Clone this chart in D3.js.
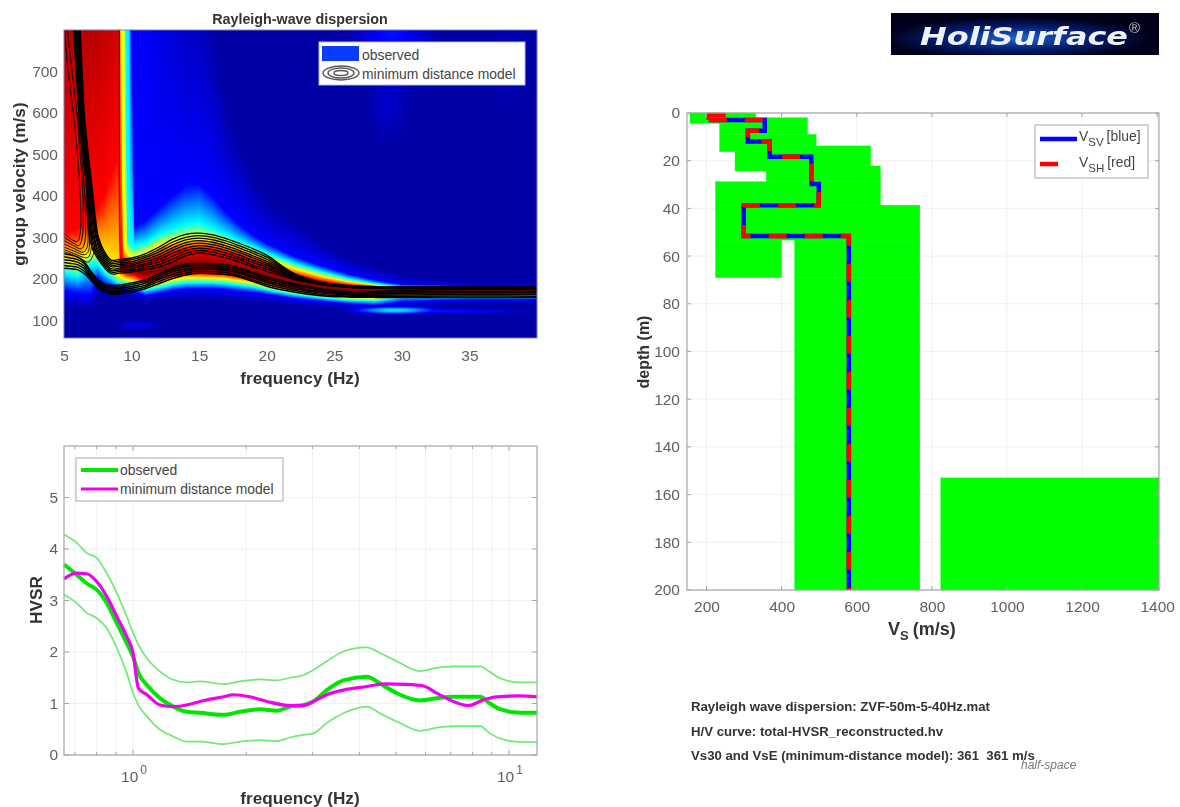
<!DOCTYPE html>
<html>
<head>
<meta charset="utf-8">
<script src="https://cdn.jsdelivr.net/npm/d3@7/dist/d3.min.js"></script>
<style>
  html, body { margin: 0; background: #fff; }
  svg { display: block; filter: blur(0.7px); font-family: "Liberation Sans", Arial, sans-serif; }
  .tick-label { fill: #606060; font-size: 15.5px; }
  .axis-label { fill: #333; font-size: 17.2px; font-weight: bold; }
  .legend-text { fill: #444; font-size: 13.9px; }
  .grid { stroke: #f0f0f0; stroke-width: 1; }
  .frame { fill: none; stroke: #a6a6a6; stroke-width: 1.2; }
</style>
</head>
<body>
<svg id="chart" width="1180" height="807"></svg>
<script>
// ---- dispersion image: velocity of each colour level, column by column ----
const obsFreq = [5, 6, 7, 7.5, 8, 9, 9.14, 9.36, 9.5, 9.66, 9.88, 10.2, 11, 12, 13, 14, 15, 16, 17, 18, 19, 20, 22, 24, 26, 28, 30, 35, 40];
const obsLevels = [0.03, 0.125, 0.375, 0.625, 0.875, 1, 0.875, 0.625, 0.375, 0.125, 0.03];
const lowDark = [130, 125, 130, 150, 150, 155, 155, 158, 158, 155, 152, 150, 145, 150, 150, 150, 150, 150, 148, 146, 144, 140, 136, 132, 130, 128, 130, 140, 140];
const lowBlue = [170, 165, 160, 200, 185, 175, 175, 178, 175, 172, 170, 168, 160, 165, 172, 175, 176, 176, 174, 170, 167, 163, 153, 146, 140, 136, 145, 150, 150];
const lowCyan = [215, 205, 235, 235, 215, 190, 190, 190, 188, 186, 184, 182, 172, 178, 185, 190, 190, 190, 188, 184, 180, 173, 162, 154, 148, 146, 156, 155, 155];
const lowYellow = [245, 235, 265, 262, 245, 205, 205, 203, 200, 198, 196, 194, 182, 190, 198, 203, 203, 202, 200, 195, 190, 182, 170, 160, 155, 153, 160, 160, 160];
const lowRed = [310, 320, 350, 370, 400, 500, 225, 218, 214, 212, 210, 208, 195, 200, 208, 212, 214, 212, 210, 205, 200, 192, 178, 168, 162, 160, 164, 165, 165];
const peakRed = [1200, 1200, 1200, 1200, 1300, 1400, 240, 230, 226, 224, 222, 220, 215, 220, 228, 232, 232, 230, 226, 220, 212, 204, 190, 180, 174, 172, 172, 170, 170];
const highRed = [9000, 9000, 9000, 9000, 9000, 9000, 260, 240, 240, 238, 235, 232, 237, 250, 262, 268, 270, 268, 262, 255, 245, 232, 210, 195, 185, 180, 176, 172, 172];
const highYellow = [9001, 9001, 9001, 9001, 9001, 9001, 1200, 290, 270, 262, 255, 250, 262, 280, 290, 295, 297, 295, 287, 275, 262, 250, 225, 207, 193, 185, 178, 175, 175];
const highCyan = [9002, 9002, 9002, 9002, 9002, 9002, 9000, 9000, 1200, 300, 285, 280, 285, 305, 318, 330, 335, 320, 305, 290, 277, 262, 237, 217, 200, 188, 180, 178, 178];
const highBlue = [9003, 9003, 9003, 9003, 9003, 9003, 9001, 9001, 9000, 9000, 1100, 325, 340, 370, 400, 425, 430, 400, 360, 330, 305, 285, 255, 232, 212, 197, 186, 183, 183];
const highDark = [9004, 9004, 9004, 9004, 9004, 9004, 9002, 9002, 9001, 9001, 9000, 9000, 5000, 1800, 1400, 1000, 1000, 800, 620, 520, 440, 390, 340, 290, 250, 230, 205, 190, 190];
const obsLines = [lowDark, lowBlue, lowCyan, lowYellow, lowRed, peakRed, highRed, highYellow, highCyan, highBlue, highDark];

// separate faint patches of the image: freq, velocity, half widths, level
const obsPatches = [
  [29.5, 124, 2.0, 6, 0.36],
  [33, 122, 4.5, 5, 0.14],
  [26.5, 150, 1.8, 6, 0.3],
  [10.5, 88, 1.1, 7, 0.11],
  [10.3, 53, 1.2, 4, 0.32],
  [29.3, 810, 2.0, 110, 0.14],
  [29, 640, 1.2, 90, 0.07],
  [38, 720, 1.5, 120, 0.05]
];

// ---- model contours of the dispersion panel ----
const ridgeFreq = [8.5, 9, 10, 11, 12, 13, 14, 15, 16, 17, 18, 19, 20, 22, 24, 26, 28, 30, 40];
const upperContours = [
  [245, 246, 250, 260, 276, 295, 307, 310, 306, 297, 285, 272, 257, 213, 192, 184, 181, 180, 180],
  [241, 242, 246, 255, 270, 288, 300, 304, 300, 291, 279, 266, 252, 211, 191, 183, 180, 180, 180],
  [237, 238, 241, 251, 264, 281, 294, 298, 294, 285, 274, 261, 247, 209, 190, 183, 180, 179, 179],
  [233, 234, 237, 246, 258, 274, 287, 292, 288, 279, 268, 255, 242, 207, 190, 182, 179, 179, 179],
  [229, 230, 233, 241, 252, 268, 281, 286, 282, 274, 263, 250, 237, 205, 189, 182, 179, 178, 178],
  [224, 225, 229, 236, 246, 261, 274, 280, 276, 268, 257, 244, 233, 204, 188, 181, 178, 178, 178],
  [220, 221, 224, 232, 240, 254, 268, 274, 270, 262, 251, 239, 228, 202, 188, 181, 178, 177, 177],
  [216, 217, 220, 227, 234, 247, 261, 268, 264, 256, 246, 233, 223, 200, 187, 180, 177, 177, 177],
  [212, 213, 216, 222, 228, 240, 255, 262, 258, 250, 240, 228, 218, 198, 186, 179, 177, 176, 176]
];
const bundleVelocity = [800, 700, 600, 500, 400, 340, 300, 265];
const bundleFreq = [
  [6.2, 6.35, 6.5, 6.8, 7.15, 7.35, 7.55, 8.0],
  [6.14, 6.3, 6.45, 6.75, 7.1, 7.3, 7.5, 7.9],
  [6.08, 6.24, 6.4, 6.7, 7.05, 7.25, 7.42, 7.8],
  [6.02, 6.18, 6.35, 6.65, 7.0, 7.18, 7.35, 7.7],
  [5.96, 6.12, 6.3, 6.6, 6.94, 7.1, 7.25, 7.6],
  [5.9, 6.06, 6.25, 6.55, 6.88, 7.0, 7.18, 7.5],
  [5.84, 6.0, 6.2, 6.5, 6.82, 6.92, 7.1, 7.4],
  [5.77, 5.95, 6.15, 6.45, 6.76, 6.85, 7.0, 7.3],
  [5.7, 5.9, 6.1, 6.4, 6.7, 6.75, 6.9, 7.2]
];
const lowerFreq = [5, 5.5, 6, 6.5, 7, 7.5, 8, 8.5, 9, 10, 11, 12, 13, 14, 15, 16, 17, 18, 19, 20, 22, 24, 26, 28, 30, 40];
const lowerContours = [
  [225, 224, 222, 212, 196, 178, 166, 163, 163, 168, 176, 188, 200, 209, 213, 212, 210, 204, 193, 182, 168, 159, 156, 155, 155, 155],
  [232, 230, 228, 218, 199, 182, 170, 167, 167, 172, 180, 193, 205, 214, 218, 217, 215, 208, 197, 186, 172, 162, 158, 157, 158, 158],
  [239, 237, 234, 224, 203, 186, 174, 171, 171, 177, 184, 198, 210, 219, 223, 222, 220, 213, 202, 191, 176, 166, 161, 160, 161, 162],
  [246, 244, 240, 230, 208, 190, 179, 176, 176, 181, 189, 202, 216, 224, 227, 226, 224, 217, 206, 195, 180, 169, 163, 163, 165, 166],
  [253, 250, 246, 236, 213, 194, 183, 180, 180, 186, 193, 207, 221, 230, 232, 231, 229, 222, 211, 200, 184, 173, 166, 166, 168, 170],
  [260, 257, 252, 240, 218, 198, 187, 184, 184, 190, 197, 212, 226, 235, 237, 236, 234, 226, 215, 204, 188, 176, 169, 169, 172, 174]
];
const leftContours = [
  [[5, 310], [5.5, 296], [6, 290], [6.2, 310], [6.2, 400], [6, 500], [5.7, 600], [5.3, 700], [5.05, 800]],
  [[5, 300], [5.6, 288], [6.1, 280], [6.35, 300], [6.4, 400], [6.2, 500], [5.95, 600], [5.6, 700], [5.25, 800]],
  [[5, 292], [5.7, 280], [6.3, 272], [6.55, 290], [6.6, 340], [6.5, 420], [6.3, 500], [6.0, 600]],
  [[5, 284], [5.8, 272], [6.4, 264], [6.7, 275], [6.75, 340], [6.6, 400]],
  [[5, 276], [5.8, 266], [6.4, 258], [6.75, 262], [6.9, 300], [6.8, 345]],
  [[5, 270], [5.8, 260], [6.4, 252], [6.8, 252], [7.05, 285], [7.0, 320]],
  [[5, 265], [5.8, 256], [6.3, 248], [6.8, 240], [7.2, 262], [7.3, 290]]
];

// ---- HVSR panel ----
const hvFreq = [0.655, 0.708, 0.753, 0.8, 0.851, 0.905, 0.962, 1.0, 1.033, 1.088, 1.18, 1.28, 1.389, 1.507, 1.739, 1.926, 2.176, 2.411, 2.616, 2.838, 3.017, 3.275, 3.625, 4.183, 4.538, 5.03, 5.8, 6.42, 7.11, 8.37, 8.9, 9.46, 10.7, 11.87];
const hvObserved = [3.7, 3.5, 3.33, 3.21, 2.95, 2.56, 2.17, 1.91, 1.59, 1.36, 1.1, 0.94, 0.84, 0.82, 0.78, 0.84, 0.89, 0.86, 0.94, 0.97, 1.04, 1.26, 1.45, 1.52, 1.39, 1.2, 1.06, 1.1, 1.13, 1.13, 1.0, 0.89, 0.82, 0.82];
const hvUpper = [4.28, 4.12, 3.92, 3.83, 3.53, 3.15, 2.69, 2.37, 2.14, 1.88, 1.62, 1.46, 1.41, 1.43, 1.375, 1.43, 1.47, 1.45, 1.5, 1.55, 1.65, 1.82, 2.01, 2.09, 1.98, 1.82, 1.63, 1.69, 1.72, 1.72, 1.61, 1.49, 1.41, 1.41];
const hvLower = [3.11, 2.95, 2.76, 2.66, 2.46, 2.08, 1.59, 1.2, 0.97, 0.75, 0.49, 0.36, 0.26, 0.26, 0.21, 0.26, 0.29, 0.27, 0.34, 0.39, 0.42, 0.62, 0.81, 0.94, 0.81, 0.65, 0.47, 0.53, 0.56, 0.56, 0.42, 0.32, 0.25, 0.25];
const modelFreq = [0.655, 0.708, 0.753, 0.8, 0.851, 0.905, 0.962, 1.0, 1.033, 1.088, 1.18, 1.28, 1.389, 1.507, 1.739, 1.849, 2.047, 2.268, 2.616, 2.838, 3.017, 3.275, 3.625, 4.183, 4.68, 5.345, 5.92, 6.42, 7.11, 7.79, 8.54, 9.27, 10.7, 11.87];
const modelHv = [3.42, 3.53, 3.52, 3.37, 3.08, 2.69, 2.3, 1.98, 1.3, 1.17, 0.97, 0.94, 0.97, 1.04, 1.13, 1.17, 1.13, 1.04, 0.96, 0.96, 1.04, 1.17, 1.26, 1.33, 1.38, 1.37, 1.34, 1.2, 1.04, 0.96, 1.07, 1.13, 1.15, 1.13];
const hvTicksY = [0, 1, 2, 3, 4, 5];
const hvMinorX = [0.7, 0.8, 0.9, 2, 3, 4, 5, 6, 7, 8, 9];

// ---- Vs panel ----
const bandTop = [0, 2, 4.3, 9, 13.8, 16.2, 22.2, 24.3, 28.8, 38.7, 53.3, 53.3, 69, 153, 153];
const bandBottom = [2, 4.3, 9, 13.8, 16.2, 22.2, 24.3, 28.8, 38.7, 53.3, 69, 69, 153, 200, 200];
const bandVsMin = [156, 156, 235, 235, 235, 276, 276, 359, 224, 224, 224, 435, 435, 435, 824];
const bandVsMax = [331, 469, 469, 492, 637, 637, 663, 663, 663, 768, 400, 768, 768, 768, 1405];
const capVs = [251, 206, 206];
const capDepth = [0.84, 0.84, 2.9];
const profileVs = [206, 355, 355, 310, 310, 368, 368, 479, 479, 499, 499, 299, 299, 579, 579];
const profileDepth = [2.9, 2.9, 7.4, 7.4, 12, 12, 18.3, 18.3, 29.8, 29.8, 38.7, 38.7, 51.6, 51.6, 200];
const vsTicks = [200, 400, 600, 800, 1000, 1200, 1400];
const depthTicks = [0, 20, 40, 60, 80, 100, 120, 140, 160, 180, 200];

const infoLines = [
  "Rayleigh wave dispersion: ZVF-50m-5-40Hz.mat",
  "H/V curve: total-HVSR_reconstructed.hv",
  "Vs30 and VsE (minimum-distance model): 361  361 m/s"
];

const svg = d3.select("#chart");

function drawAxisText(axisG) {
  axisG.select(".domain").remove();
  axisG.selectAll(".tick line").remove();
  axisG.selectAll(".tick text").attr("class", "tick-label").attr("fill", null);
  axisG.attr("font-size", null).attr("font-family", null);
}

function drawDispersion() {
  const x = d3.scaleLinear([5, 40], [64, 537]);
  const y = d3.scaleLinear([57, 800], [338, 30]);
  const [x0, x1] = x.range();
  const [y0, y1] = y.range();
  const colour = d3.scaleLinear(
    [0, 0.125, 0.375, 0.625, 0.875, 1],
    ["#00008a", "#0000ff", "#00ffff", "#ffff00", "#ff0000", "#7a0000"]
  ).clamp(true);

  const width = x1 - x0;
  const height = y0 - y1;
  const canvas = document.createElement("canvas");
  canvas.width = width;
  canvas.height = height;
  const ctx = canvas.getContext("2d");
  const img = ctx.createImageData(width, height);
  const lineAt = obsLines.map((line) => d3.scaleLinear(obsFreq, line));

  for (let i = 0; i < width; i++) {
    const f = x.invert(x0 + i + 0.5);
    const breaks = lineAt.map((s) => s(f));
    const level = d3.scaleLinear(breaks, obsLevels).clamp(true);
    for (let j = 0; j < height; j++) {
      const v = y.invert(y1 + j + 0.5);
      let l = level(v);
      for (const [pf, pv, sf, sv, amp] of obsPatches) {
        l = Math.max(l, amp * Math.exp(-((f - pf) ** 2) / (2 * sf * sf) - ((v - pv) ** 2) / (2 * sv * sv)));
      }
      const c = d3.rgb(colour(l));
      const k = (j * width + i) * 4;
      img.data[k] = c.r;
      img.data[k + 1] = c.g;
      img.data[k + 2] = c.b;
      img.data[k + 3] = 255;
    }
  }
  ctx.putImageData(img, 0, 0);

  svg.append("image")
    .attr("x", x0).attr("y", y1)
    .attr("width", width).attr("height", height)
    .attr("href", canvas.toDataURL());

  svg.append("clipPath").attr("id", "disp-clip")
    .append("rect").attr("x", x0).attr("y", y1).attr("width", width).attr("height", height);

  const line = d3.line().x((d) => x(d[0])).y((d) => y(d[1])).curve(d3.curveCatmullRom);
  const upperLines = upperContours.map((c, k) => [
    ...bundleVelocity.map((v, i) => [bundleFreq[k][i], v]),
    ...ridgeFreq.map((f, i) => [f, c[i]])
  ]);
  const lowerLines = lowerContours.map((c) => lowerFreq.map((f, i) => [f, c[i]]));
  const contourG = svg.append("g").attr("clip-path", "url(#disp-clip)")
    .attr("fill", "none").attr("stroke", "#000");
  [[upperLines, 1.3], [lowerLines, 1.5], [leftContours, 0.9]].forEach(([lines, w]) => {
    contourG.append("g").attr("stroke-width", w)
      .selectAll("path").data(lines).join("path").attr("d", line);
  });

  svg.append("rect").attr("x", x0).attr("y", y1).attr("width", width).attr("height", height)
    .attr("fill", "none").attr("stroke", "#7f7fb8").attr("stroke-width", 1);

  const xAxis = svg.append("g").attr("transform", `translate(0,${y0 + 3})`)
    .call(d3.axisBottom(x).tickValues([5, 10, 15, 20, 25, 30, 35]).tickFormat(d3.format("d")));
  drawAxisText(xAxis);
  const yAxis = svg.append("g").attr("transform", `translate(${x0 + 3},0)`)
    .call(d3.axisLeft(y).tickValues([100, 200, 300, 400, 500, 600, 700]).tickFormat(d3.format("d")));
  drawAxisText(yAxis);

  svg.append("text").attr("x", 300).attr("y", 24).attr("text-anchor", "middle")
    .attr("fill", "#333").attr("font-size", 14.3).attr("font-weight", "bold").text("Rayleigh-wave dispersion");
  svg.append("text").attr("class", "axis-label").attr("x", 300).attr("y", 384).attr("text-anchor", "middle")
    .text("frequency (Hz)");
  svg.append("text").attr("class", "axis-label").attr("text-anchor", "middle")
    .attr("transform", "translate(25,184) rotate(-90)").text("group velocity (m/s)");

  // legend
  svg.append("rect").attr("x", 319).attr("y", 42).attr("width", 206).attr("height", 43)
    .attr("fill", "#fff").attr("stroke", "#b8b8e0");
  svg.append("rect").attr("x", 322).attr("y", 46).attr("width", 37).attr("height", 15).attr("fill", "#0a3cff");
  svg.selectAll(".legend-ring").data([[18, 7], [13, 5], [7, 2.5]]).join("ellipse")
    .attr("class", "legend-ring").attr("cx", 341).attr("cy", 73)
    .attr("rx", (d) => d[0]).attr("ry", (d) => d[1])
    .attr("fill", "none").attr("stroke", "#555").attr("stroke-width", 1.4);
  svg.append("text").attr("class", "legend-text").attr("x", 362).attr("y", 60).text("observed");
  svg.append("text").attr("class", "legend-text").attr("x", 362).attr("y", 79).text("minimum distance model");
}

function drawHvsr() {
  const x = d3.scaleLog([0.655, 11.87], [64, 537]);
  const y = d3.scaleLinear([0, 6], [755, 446]);
  const [x0, x1] = x.range();
  const [y0, y1] = y.range();

  svg.append("g").selectAll("line").data([...hvMinorX, 1, 10]).join("line")
    .attr("class", "grid")
    .attr("x1", (d) => x(d)).attr("x2", (d) => x(d)).attr("y1", y0).attr("y2", y1);
  svg.append("g").selectAll("line").data(hvTicksY).join("line")
    .attr("class", "grid")
    .attr("x1", x0).attr("x2", x1).attr("y1", (d) => y(d)).attr("y2", (d) => y(d));

  const line = d3.line().x((d) => x(d[0])).y((d) => y(d[1])).curve(d3.curveMonotoneX);
  const bands = [hvUpper, hvLower].map((b) => hvFreq.map((f, i) => [f, b[i]]));
  svg.append("g").selectAll("path").data(bands).join("path")
    .attr("d", line).attr("fill", "none").attr("stroke", "#72ea72").attr("stroke-width", 1.7);
  svg.append("path").attr("d", line(hvFreq.map((f, i) => [f, hvObserved[i]])))
    .attr("fill", "none").attr("stroke", "#00e600").attr("stroke-width", 4);
  svg.append("path").attr("d", line(modelFreq.map((f, i) => [f, modelHv[i]])))
    .attr("fill", "none").attr("stroke", "#f000f0").attr("stroke-width", 3.2);

  svg.append("rect").attr("class", "frame").attr("x", x0).attr("y", y1)
    .attr("width", x1 - x0).attr("height", y0 - y1);

  // inward ticks on the log axis and both y sides
  const tickMarks = svg.append("g").attr("stroke", "#a6a6a6");
  [...hvMinorX, 1, 10].forEach((d) => {
    const len = d === 1 || d === 10 ? 5 : 3;
    tickMarks.append("line").attr("x1", x(d)).attr("x2", x(d)).attr("y1", y0).attr("y2", y0 - len);
    tickMarks.append("line").attr("x1", x(d)).attr("x2", x(d)).attr("y1", y1).attr("y2", y1 + len);
  });
  hvTicksY.forEach((d) => {
    tickMarks.append("line").attr("x1", x0).attr("x2", x0 + 5).attr("y1", y(d)).attr("y2", y(d));
    tickMarks.append("line").attr("x1", x1).attr("x2", x1 - 5).attr("y1", y(d)).attr("y2", y(d));
  });

  const yAxis = svg.append("g").attr("transform", `translate(${x0 + 3},0)`)
    .call(d3.axisLeft(y).tickValues(hvTicksY).tickFormat(d3.format("d")));
  drawAxisText(yAxis);

  [[1, "0"], [10, "1"]].forEach(([d, e]) => {
    const t = svg.append("text").attr("class", "tick-label").attr("x", x(d) - 12).attr("y", 782);
    t.append("tspan").text("10");
    t.append("tspan").attr("dx", 2).attr("dy", -8).style("font-size", "12px").text(e);
  });

  svg.append("text").attr("class", "axis-label").attr("x", 300).attr("y", 804).attr("text-anchor", "middle")
    .text("frequency (Hz)");
  svg.append("text").attr("class", "axis-label").attr("text-anchor", "middle")
    .attr("transform", "translate(42,600) rotate(-90)").text("HVSR");

  svg.append("rect").attr("x", 76).attr("y", 458).attr("width", 207).attr("height", 43)
    .attr("fill", "#fff").attr("stroke", "#aaa");
  svg.append("line").attr("x1", 81).attr("x2", 118).attr("y1", 470).attr("y2", 470)
    .attr("stroke", "#00e600").attr("stroke-width", 4);
  svg.append("line").attr("x1", 81).attr("x2", 118).attr("y1", 489).attr("y2", 489)
    .attr("stroke", "#f000f0").attr("stroke-width", 3.2);
  svg.append("text").attr("class", "legend-text").attr("x", 120).attr("y", 475).text("observed");
  svg.append("text").attr("class", "legend-text").attr("x", 120).attr("y", 494).text("minimum distance model");
}

function drawProfile() {
  const x = d3.scaleLinear([148, 1405], [687, 1159]);
  const y = d3.scaleLinear([0, 200], [113, 590]);
  const [x0, x1] = x.range();
  const [y1, y0] = y.range();

  svg.append("g").selectAll("line").data(vsTicks).join("line")
    .attr("class", "grid")
    .attr("x1", (d) => x(d)).attr("x2", (d) => x(d)).attr("y1", y0).attr("y2", y1);
  svg.append("g").selectAll("line").data(depthTicks).join("line")
    .attr("class", "grid")
    .attr("x1", x0).attr("x2", x1).attr("y1", (d) => y(d)).attr("y2", (d) => y(d));

  svg.append("g").selectAll("rect").data(bandTop).join("rect")
    .attr("x", (d, i) => x(bandVsMin[i]))
    .attr("y", (d) => y(d))
    .attr("width", (d, i) => x(bandVsMax[i]) - x(bandVsMin[i]))
    .attr("height", (d, i) => y(bandBottom[i]) - y(d))
    .attr("fill", "#00ff00").attr("stroke", "#00ff00").attr("stroke-width", 0.4);

  const path = d3.line().x((d) => x(d)).y((d, i) => y(profileDepth[i]));
  const capPath = d3.line().x((d) => x(d)).y((d, i) => y(capDepth[i]));
  svg.append("path").attr("d", path(profileVs)).attr("fill", "none")
    .attr("stroke", "#0000ff").attr("stroke-width", 4.5);
  svg.append("path").attr("d", path(profileVs)).attr("fill", "none")
    .attr("stroke", "#ff0000").attr("stroke-width", 4.5).attr("stroke-dasharray", "18 18");
  svg.append("path").attr("d", capPath(capVs)).attr("fill", "none")
    .attr("stroke", "#ff0000").attr("stroke-width", 4.5);

  svg.append("rect").attr("class", "frame").attr("x", x0).attr("y", y1)
    .attr("width", x1 - x0).attr("height", y0 - y1);

  const tickMarks = svg.append("g").attr("stroke", "#a6a6a6");
  vsTicks.forEach((d) => {
    tickMarks.append("line").attr("x1", x(d)).attr("x2", x(d)).attr("y1", y0).attr("y2", y0 - 4);
    tickMarks.append("line").attr("x1", x(d)).attr("x2", x(d)).attr("y1", y1).attr("y2", y1 + 4);
  });
  depthTicks.forEach((d) => {
    tickMarks.append("line").attr("x1", x0).attr("x2", x0 + 4).attr("y1", y(d)).attr("y2", y(d));
    tickMarks.append("line").attr("x1", x1).attr("x2", x1 - 4).attr("y1", y(d)).attr("y2", y(d));
  });

  const xAxis = svg.append("g").attr("transform", `translate(0,${y0 + 2})`)
    .call(d3.axisBottom(x).tickValues(vsTicks).tickFormat(d3.format("d")));
  drawAxisText(xAxis);
  const yAxis = svg.append("g").attr("transform", `translate(${x0 + 2},0)`)
    .call(d3.axisLeft(y).tickValues(depthTicks).tickFormat(d3.format("d")));
  drawAxisText(yAxis);

  svg.append("text").attr("class", "axis-label").attr("text-anchor", "middle").style("font-size", "16px")
    .attr("transform", "translate(649,352) rotate(-90)").text("depth (m)");
  const xlab = svg.append("text").attr("class", "axis-label").attr("x", 888).attr("y", 635).style("font-size", "18px");
  xlab.append("tspan").text("V");
  xlab.append("tspan").attr("dy", 5).style("font-size", "13px").text("S");
  xlab.append("tspan").attr("dy", -5).attr("dx", 4).text("(m/s)");

  // legend
  svg.append("rect").attr("x", 1035).attr("y", 125).attr("width", 113).attr("height", 53)
    .attr("fill", "#fff").attr("stroke", "#aaa");
  svg.append("line").attr("x1", 1040).attr("x2", 1077).attr("y1", 139).attr("y2", 139)
    .attr("stroke", "#0000ff").attr("stroke-width", 4.5);
  svg.append("line").attr("x1", 1040).attr("x2", 1058).attr("y1", 164).attr("y2", 164)
    .attr("stroke", "#ff0000").attr("stroke-width", 4.5);
  [[1079, 141, "SV", "[blue]"], [1079, 167, "SH", "[red]"]].forEach(([tx, ty, sub, rest]) => {
    const t = svg.append("text").attr("class", "legend-text").attr("x", tx).attr("y", ty);
    t.append("tspan").text("V");
    t.append("tspan").attr("dy", 5).style("font-size", "11.5px").text(sub);
    t.append("tspan").attr("dy", -5).attr("dx", 3).text(rest);
  });
}

function drawLogo() {
  const defs = svg.append("defs");
  const glow = defs.append("radialGradient").attr("id", "logo-glow").attr("cx", 0.47).attr("cy", 0.6).attr("r", 0.5);
  glow.append("stop").attr("offset", 0).attr("stop-color", "#1a66cc");
  glow.append("stop").attr("offset", 0.55).attr("stop-color", "#041c70");
  glow.append("stop").attr("offset", 1).attr("stop-color", "#00001a");
  svg.append("rect").attr("x", 891).attr("y", 13).attr("width", 268).attr("height", 42)
    .attr("fill", "url(#logo-glow)");
  svg.append("text").attr("x", 920).attr("y", 45)
    .attr("font-family", "'DejaVu Sans'").attr("font-size", 25.5).attr("font-weight", "bold").attr("font-style", "italic")
    .attr("textLength", 208).attr("lengthAdjust", "spacingAndGlyphs")
    .attr("fill", "#eef2f8").text("HoliSurface");
  svg.append("text").attr("x", 1129).attr("y", 33)
    .attr("font-size", 15).attr("fill", "#c0c4cc").text("®");
}

function drawInfo() {
  svg.append("g").selectAll("text").data(infoLines).join("text")
    .attr("x", 691).attr("y", (d, i) => 711 + i * 24.5)
    .attr("fill", "#333").attr("font-size", 13.2).attr("font-weight", "bold")
    .style("white-space", "pre").text((d) => d);
  svg.append("text").attr("x", 1021).attr("y", 769)
    .attr("fill", "#777").attr("font-size", 12).attr("font-style", "italic").text("half-space");
}

drawDispersion();
drawHvsr();
drawProfile();
drawLogo();
drawInfo();
</script>
</body>
</html>
